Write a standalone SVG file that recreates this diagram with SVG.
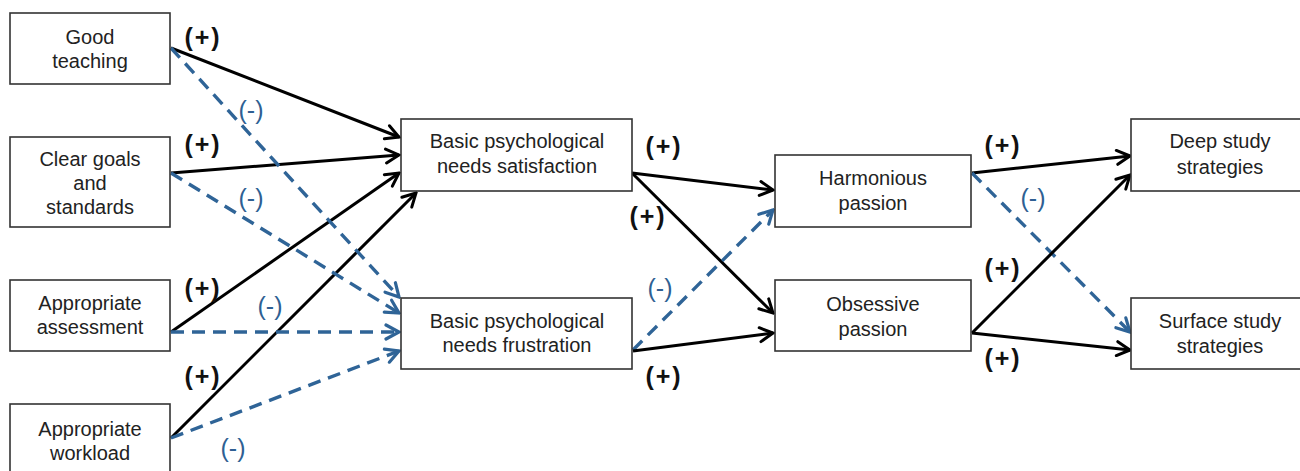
<svg xmlns="http://www.w3.org/2000/svg" width="1300" height="471" viewBox="0 0 1300 471">
<style>
.box{fill:#fff;stroke:#333;stroke-width:1.6}
.t{font-family:"Liberation Sans",Arial,sans-serif;font-size:20px;fill:#222;text-anchor:middle}
.pos{font-family:"Liberation Sans",Arial,sans-serif;font-size:25px;font-weight:bold;letter-spacing:2px;fill:#111;text-anchor:middle}
.neg{font-family:"Liberation Sans",Arial,sans-serif;font-size:25px;fill:#2F5F93;text-anchor:middle}
.s{fill:none;stroke:#000;stroke-width:3;marker-end:url(#ab)}
.d{fill:none;stroke:#2F6497;stroke-width:3.4;stroke-dasharray:13 8;marker-end:url(#au)}
</style>
<defs>
<marker id="ab" markerUnits="userSpaceOnUse" viewBox="-16 -10 18 20" markerWidth="18" markerHeight="20" refX="0" refY="0" orient="auto">
<path d="M-13,-7 L0,0 L-13,7" fill="none" stroke="#000" stroke-width="3" stroke-linecap="round" stroke-linejoin="miter"/>
</marker>
<marker id="au" markerUnits="userSpaceOnUse" viewBox="-16 -10 18 20" markerWidth="18" markerHeight="20" refX="0" refY="0" orient="auto">
<path d="M-13,-7 L0,0 L-13,7" fill="none" stroke="#2F6497" stroke-width="3.2" stroke-dasharray="none" stroke-linecap="round"/>
</marker>
</defs>

<g id="connectors">
<line class="s" x1="171" y1="48" x2="399" y2="137"/>
<line class="s" x1="171" y1="173" x2="399" y2="155"/>
<line class="s" x1="171" y1="332" x2="399" y2="173"/>
<line class="s" x1="171" y1="438" x2="416" y2="193"/>
<line class="d" x1="171" y1="48" x2="399" y2="297"/>
<line class="d" x1="171" y1="173" x2="399" y2="313"/>
<line class="d" x1="171" y1="332" x2="399" y2="332"/>
<line class="d" x1="171" y1="438" x2="399" y2="351"/>
<line class="s" x1="632" y1="173" x2="773" y2="190"/>
<line class="s" x1="632" y1="173" x2="773" y2="313"/>
<line class="d" x1="633" y1="350" x2="773" y2="210"/>
<line class="s" x1="633" y1="351" x2="773" y2="333"/>
<line class="s" x1="972" y1="173" x2="1130" y2="156"/>
<line class="d" x1="972" y1="173" x2="1130" y2="332"/>
<line class="s" x1="972" y1="333" x2="1130" y2="175"/>
<line class="s" x1="972" y1="333" x2="1130" y2="350"/>
</g>

<g id="labels">
<text class="pos" x="203" y="46">(+)</text>
<text class="neg" x="251" y="119">(-)</text>
<text class="pos" x="203" y="153">(+)</text>
<text class="neg" x="251" y="207">(-)</text>
<text class="pos" x="203" y="297">(+)</text>
<text class="neg" x="270" y="315">(-)</text>
<text class="pos" x="203" y="385">(+)</text>
<text class="neg" x="233" y="457">(-)</text>
<text class="pos" x="664" y="155">(+)</text>
<text class="pos" x="648" y="225">(+)</text>
<text class="neg" x="660" y="297">(-)</text>
<text class="pos" x="664" y="385">(+)</text>
<text class="pos" x="1003" y="154">(+)</text>
<text class="neg" x="1033" y="207">(-)</text>
<text class="pos" x="1003" y="277">(+)</text>
<text class="pos" x="1003" y="367">(+)</text>
</g>

<g id="good-teaching">
<rect class="box" x="10" y="13" width="160" height="71"/>
<text class="t" x="90" y="44">Good</text>
<text class="t" x="90" y="68">teaching</text>
</g>
<g id="clear-goals">
<rect class="box" x="10" y="137" width="160" height="90"/>
<text class="t" x="90" y="166">Clear goals</text>
<text class="t" x="90" y="190">and</text>
<text class="t" x="90" y="214">standards</text>
</g>
<g id="appropriate-assessment">
<rect class="box" x="10" y="280" width="160" height="71"/>
<text class="t" x="90" y="310">Appropriate</text>
<text class="t" x="90" y="334">assessment</text>
</g>
<g id="appropriate-workload">
<rect class="box" x="10" y="404" width="160" height="72"/>
<text class="t" x="90" y="436">Appropriate</text>
<text class="t" x="90" y="460">workload</text>
</g>
<g id="needs-satisfaction">
<rect class="box" x="401" y="119" width="231" height="72"/>
<text class="t" x="517" y="148">Basic psychological</text>
<text class="t" x="517" y="173">needs satisfaction</text>
</g>
<g id="needs-frustration">
<rect class="box" x="401" y="298" width="231" height="71"/>
<text class="t" x="517" y="328">Basic psychological</text>
<text class="t" x="517" y="352">needs frustration</text>
</g>
<g id="harmonious-passion">
<rect class="box" x="775" y="155" width="196" height="72"/>
<text class="t" x="873" y="185">Harmonious</text>
<text class="t" x="873" y="210">passion</text>
</g>
<g id="obsessive-passion">
<rect class="box" x="775" y="280" width="196" height="71"/>
<text class="t" x="873" y="311">Obsessive</text>
<text class="t" x="873" y="336">passion</text>
</g>
<g id="deep-study">
<rect class="box" x="1131" y="119" width="178" height="72"/>
<text class="t" x="1220" y="148">Deep study</text>
<text class="t" x="1220" y="174">strategies</text>
</g>
<g id="surface-study">
<rect class="box" x="1131" y="298" width="178" height="71"/>
<text class="t" x="1220" y="328">Surface study</text>
<text class="t" x="1220" y="353">strategies</text>
</g>
</svg>
